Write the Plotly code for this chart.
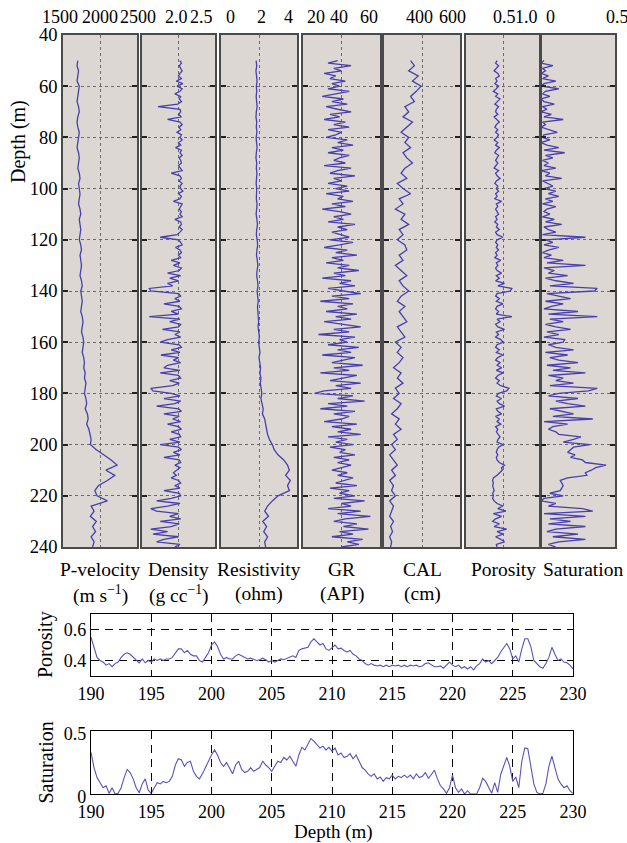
import plotly.graph_objects as go

W, H = 627, 843

# ---------------- data: well logs (top tracks) ----------------
depth_2m = list(range(50, 241, 2))   # depth samples for smooth logs (m)
depth_1m = list(range(50, 241, 1))   # depth samples for spiky logs (m)

p_velocity = [
    1700, 1690, 1710, 1700, 1690, 1720, 1710, 1700, 1690, 1710, 1720, 1700, 1690,
    1700, 1720, 1710, 1700, 1690, 1710, 1720, 1710, 1700, 1720, 1730, 1710, 1720,
    1730, 1720, 1710, 1730, 1740, 1720, 1730, 1740, 1730, 1720, 1740, 1750, 1730,
    1740, 1750, 1740, 1730, 1750, 1760, 1740, 1750, 1760, 1750, 1740, 1760,
    1770, 1760, 1750, 1770, 1780, 1770, 1760, 1780, 1790, 1780, 1800, 1790, 1810,
    1800, 1790, 1810, 1820, 1800, 1830, 1840, 1820, 1850, 1860, 1880, 1870,
    1950, 2050, 2150, 2230, 2080, 2200, 2100, 1980, 1930, 1960, 2100, 1880, 1920,
    1870, 1950, 1900, 1940, 1880, 1920, 1900,
]

resistivity = [
    1.85, 1.88, 1.84, 1.87, 1.90, 1.86, 1.88, 1.85, 1.87, 1.90, 1.86, 1.84, 1.88,
    1.86, 1.89, 1.85, 1.87, 1.90, 1.86, 1.84, 1.88, 1.86, 1.89, 1.87, 1.85, 1.88,
    1.88, 1.86, 1.90, 1.87, 1.85, 1.89, 1.92, 1.88, 1.86, 1.90, 1.93, 1.89, 1.87,
    1.91, 1.94, 1.90, 1.88, 1.92, 1.95, 1.90, 1.93, 1.96, 1.92, 1.94, 1.97,
    1.98, 1.95, 2.00, 2.02, 1.98, 2.03, 2.05, 2.00, 2.04, 2.08, 2.05, 2.10, 2.07,
    2.12, 2.15, 2.10, 2.18, 2.22, 2.18, 2.30, 2.35, 2.40, 2.45, 2.55, 2.70,
    2.80, 3.00, 3.30, 3.50, 3.60, 3.40, 3.65, 3.50, 3.60, 3.00, 2.70, 2.45, 2.30,
    2.50, 2.20, 2.40, 2.25, 2.45, 2.30, 2.35,
]

caliper = [
    340, 360, 330, 380, 350, 395, 370, 340, 360, 310, 330, 300, 350,
    320, 290, 330, 310, 340, 300, 320, 350, 310, 290, 320, 270, 300,
    340, 280, 300, 260, 310, 290, 330, 280, 300, 270, 310, 320, 280,
    300, 260, 290, 320, 280, 300, 330, 290, 270, 310, 280, 300,
    320, 270, 290, 310, 260, 290, 270, 300, 280, 250, 290, 270, 300,
    260, 280, 250, 290, 270, 240, 280, 260, 290, 250, 270, 240,
    260, 230, 250, 270, 240, 260, 230, 250, 240, 260, 230, 250, 240,
    230, 250, 235, 245, 230, 240, 235,
]

density = [
    2.02, 2.04, 2.01, 2.03, 2.05, 2.02, 2.00, 2.04, 1.97, 2.06,
    1.98, 2.05, 2.02, 1.95, 2.03, 2.01, 2.04, 1.99, 1.72, 2.02,
    2.03, 2.00, 2.04, 1.85, 2.02, 2.05, 2.01, 2.03, 1.98, 2.04,
    2.02, 2.05, 2.00, 2.03, 1.96, 2.04, 2.02, 2.05, 2.01, 2.03,
    2.04, 2.00, 2.03, 2.05, 1.90, 2.02, 2.04, 2.01, 2.05, 2.02,
    2.03, 2.06, 2.00, 2.04, 2.02, 1.93, 2.05, 2.03, 2.01, 2.04,
    2.02, 2.05, 1.95, 2.03, 2.04, 2.01, 2.05, 2.02, 1.98, 1.75,
    2.00, 2.03, 2.05, 1.96, 2.02, 2.04, 2.00, 2.03, 1.90, 2.02,
    1.93, 2.04, 2.01, 1.85, 2.03, 1.88, 2.00, 1.85, 1.92, 1.60,
    1.62, 2.00, 2.03, 1.95, 2.02, 1.80, 2.01, 2.04, 1.90, 2.00,
    1.60, 2.02, 1.88, 2.03, 2.00, 1.78, 2.02, 1.95, 2.03, 1.85,
    1.75, 2.01, 2.04, 1.90, 2.02, 1.76, 2.00, 1.93, 2.03, 1.85,
    1.80, 2.02, 1.75, 2.00, 2.03, 1.88, 2.01, 1.92, 1.62, 1.65,
    1.90, 2.02, 1.80, 2.03, 1.95, 1.70, 2.00, 2.04, 1.80, 2.01,
    1.92, 2.03, 1.85, 2.00, 2.04, 1.90, 2.01, 2.03, 1.88, 2.02,
    1.75, 2.00, 2.04, 1.93, 2.02, 1.80, 2.01, 2.03, 1.95, 2.02,
    1.98, 1.93, 1.97, 1.90, 2.00, 2.03, 1.95, 2.02, 1.80, 2.01,
    2.03, 1.90, 1.70, 2.02, 1.85, 1.62, 1.70, 2.00, 1.88, 2.03,
    1.75, 2.01, 1.90, 1.62, 1.85, 1.65, 2.00, 1.80, 1.70, 2.02,
    1.95,
]

gamma_ray = [
    38, 33, 45, 36, 40, 31, 37, 34, 42, 35,
    39, 33, 44, 37, 30, 41, 35, 43, 32, 38,
    45, 34, 39, 31, 42, 36, 44, 33, 40, 37,
    32, 43, 38, 46, 35, 41, 33, 44, 39, 36,
    42, 31, 45, 38, 34, 47, 36, 40, 33, 43,
    37, 44, 32, 41, 38, 46, 35, 42, 30, 39,
    45, 36, 41, 33, 47, 38, 43, 35, 40, 44,
    34, 46, 39, 31, 43, 37, 48, 35, 41, 32,
    44, 38, 49, 36, 42, 30, 45, 39, 47, 33,
    41, 50, 35, 44, 29, 46, 38, 43, 32, 48,
    37, 45, 31, 42, 50, 36, 44, 28, 47, 39,
    43, 33, 49, 38, 45, 30, 47, 41, 35, 51,
    36, 44, 29, 48, 40, 34, 50, 37, 45, 31,
    26, 46, 38, 52, 33, 43, 29, 47, 36, 44,
    40, 31, 48, 35, 45, 38, 50, 33, 43, 37,
    46, 34, 42, 39, 47, 36, 44, 38, 45, 40,
    35, 43, 38, 46, 41, 37, 48, 34, 44, 39,
    47, 36, 52, 40, 45, 33, 50, 38, 55, 42,
    36, 48, 41, 54, 39, 46, 35, 51, 43, 49,
    40,
]

porosity_log = [
    0.42, 0.40, 0.44, 0.41, 0.38, 0.43, 0.45, 0.40, 0.42, 0.39,
    0.44, 0.41, 0.37, 0.43, 0.40, 0.46, 0.42, 0.39, 0.44, 0.41,
    0.40, 0.43, 0.38, 0.42, 0.45, 0.41, 0.39, 0.43, 0.40, 0.44,
    0.42, 0.38, 0.43, 0.40, 0.45, 0.41, 0.39, 0.44, 0.42, 0.40,
    0.43, 0.41, 0.38, 0.44, 0.40, 0.42, 0.46, 0.41, 0.39, 0.43,
    0.41, 0.44, 0.40, 0.42, 0.39, 0.48, 0.41, 0.43, 0.40, 0.42,
    0.44, 0.40, 0.42, 0.39, 0.43, 0.41, 0.45, 0.40, 0.42, 0.50,
    0.42, 0.40, 0.43, 0.41, 0.44, 0.40, 0.42, 0.39, 0.47, 0.41,
    0.43, 0.40, 0.42, 0.48, 0.41, 0.45, 0.40, 0.52, 0.43, 0.62,
    0.60, 0.42, 0.40, 0.45, 0.41, 0.50, 0.42, 0.40, 0.44, 0.41,
    0.62, 0.42, 0.46, 0.40, 0.43, 0.52, 0.41, 0.44, 0.40, 0.47,
    0.50, 0.42, 0.40, 0.45, 0.41, 0.50, 0.43, 0.40, 0.46, 0.42,
    0.48, 0.41, 0.50, 0.43, 0.40, 0.45, 0.42, 0.47, 0.58, 0.55,
    0.44, 0.41, 0.48, 0.42, 0.45, 0.52, 0.41, 0.43, 0.48, 0.40,
    0.45, 0.42, 0.47, 0.40, 0.43, 0.41, 0.44, 0.46, 0.43, 0.42,
    0.50, 0.44, 0.42, 0.41, 0.43, 0.41, 0.42, 0.45, 0.52, 0.48,
    0.49, 0.46, 0.42, 0.37, 0.36, 0.37, 0.36, 0.37, 0.38, 0.36,
    0.37, 0.36, 0.38, 0.42, 0.50, 0.43, 0.54, 0.37, 0.48, 0.40,
    0.36, 0.45, 0.38, 0.55, 0.42, 0.50, 0.40, 0.47, 0.52, 0.41,
    0.42,
]

saturation_log = [
    0.02, 0.00, 0.08, 0.01, 0.03, 0.00, 0.05, 0.01, 0.10, 0.02,
    0.00, 0.12, 0.03, 0.01, 0.06, 0.00, 0.02, 0.09, 0.01, 0.04,
    0.00, 0.07, 0.02, 0.15, 0.01, 0.03, 0.00, 0.05, 0.11, 0.02,
    0.01, 0.06, 0.00, 0.04, 0.12, 0.02, 0.16, 0.03, 0.08, 0.01,
    0.05, 0.02, 0.10, 0.00, 0.06, 0.03, 0.14, 0.01, 0.04, 0.08,
    0.02, 0.10, 0.05, 0.12, 0.03, 0.08, 0.01, 0.10, 0.04, 0.02,
    0.06, 0.01, 0.09, 0.03, 0.14, 0.02, 0.05, 0.10, 0.01, 0.30,
    0.03, 0.08, 0.02, 0.12, 0.05, 0.01, 0.07, 0.02, 0.15, 0.04,
    0.30, 0.02, 0.09, 0.05, 0.18, 0.03, 0.10, 0.22, 0.06, 0.38,
    0.36, 0.04, 0.12, 0.20, 0.03, 0.15, 0.07, 0.02, 0.25, 0.05,
    0.38, 0.06, 0.15, 0.03, 0.10, 0.20, 0.04, 0.12, 0.02, 0.16,
    0.15, 0.05, 0.10, 0.22, 0.03, 0.18, 0.06, 0.12, 0.25, 0.04,
    0.20, 0.08, 0.30, 0.05, 0.15, 0.10, 0.22, 0.06, 0.38, 0.32,
    0.12, 0.05, 0.25, 0.10, 0.18, 0.30, 0.06, 0.15, 0.22, 0.08,
    0.35, 0.02, 0.18, 0.08, 0.05, 0.10, 0.12, 0.27, 0.22, 0.15,
    0.33, 0.22, 0.20, 0.18, 0.23, 0.20, 0.28, 0.30, 0.44, 0.37,
    0.34, 0.30, 0.31, 0.18, 0.13, 0.14, 0.15, 0.14, 0.13, 0.06,
    0.15, 0.02, 0.00, 0.10, 0.05, 0.28, 0.35, 0.02, 0.30, 0.06,
    0.20, 0.05, 0.30, 0.10, 0.04, 0.25, 0.08, 0.30, 0.12, 0.05,
    0.10,
]

# ---------------- data: detail panels (190-230 m) ----------------
detail_depth = [190 + 0.25 * i for i in range(161)]

detail_porosity = [
    0.55, 0.49, 0.42, 0.40, 0.39, 0.37, 0.38, 0.36, 0.38, 0.39, 0.42, 0.44,
    0.45, 0.44, 0.42, 0.40, 0.385, 0.41, 0.385, 0.40, 0.39, 0.41, 0.40, 0.41,
    0.40, 0.41, 0.41, 0.42, 0.45, 0.475, 0.475, 0.45, 0.465, 0.44, 0.43, 0.43,
    0.40, 0.39, 0.42, 0.45, 0.50, 0.52, 0.49, 0.44, 0.41, 0.42, 0.41, 0.41,
    0.43, 0.44, 0.43, 0.42, 0.41, 0.415, 0.405, 0.40, 0.405, 0.415, 0.405, 0.39,
    0.40, 0.39, 0.40, 0.41, 0.405, 0.415, 0.42, 0.43, 0.42, 0.465, 0.475, 0.48,
    0.485, 0.52, 0.54, 0.52, 0.50, 0.51, 0.475, 0.465, 0.485, 0.50, 0.475, 0.48,
    0.465, 0.455, 0.465, 0.44, 0.43, 0.41, 0.40, 0.38, 0.37, 0.38, 0.37, 0.365,
    0.37, 0.36, 0.37, 0.36, 0.37, 0.365, 0.37, 0.36, 0.37, 0.36, 0.37, 0.365,
    0.37, 0.36, 0.365, 0.38, 0.385, 0.37, 0.36, 0.36, 0.365, 0.35, 0.37, 0.39,
    0.37, 0.36, 0.37, 0.35, 0.36, 0.345, 0.36, 0.34, 0.365, 0.38, 0.41, 0.39,
    0.40, 0.38, 0.40, 0.42, 0.455, 0.485, 0.51, 0.475, 0.41, 0.43, 0.39, 0.475,
    0.54, 0.54, 0.49, 0.40, 0.38, 0.36, 0.35, 0.38, 0.42, 0.485, 0.44, 0.40,
    0.41, 0.39, 0.385, 0.37, 0.345,
]

detail_saturation = [
    0.33, 0.21, 0.13, 0.09, 0.05, 0.065, 0.005, 0.05, 0.0, 0.005, 0.05, 0.13,
    0.195, 0.17, 0.12, 0.05, 0.01, 0.08, 0.12, 0.03, 0.005, 0.05, 0.09, 0.08,
    0.10, 0.09, 0.10, 0.14, 0.23, 0.28, 0.27, 0.22, 0.25, 0.26, 0.18, 0.14,
    0.12, 0.16, 0.21, 0.27, 0.31, 0.35, 0.31, 0.25, 0.22, 0.25, 0.21, 0.16,
    0.23, 0.26, 0.195, 0.17, 0.18, 0.21, 0.18, 0.195, 0.21, 0.26, 0.23, 0.21,
    0.18, 0.22, 0.26, 0.25, 0.29, 0.27, 0.30, 0.26, 0.22, 0.31, 0.37, 0.35,
    0.39, 0.44, 0.42, 0.39, 0.365, 0.38, 0.35, 0.37, 0.34, 0.365, 0.31, 0.325,
    0.29, 0.30, 0.32, 0.28, 0.31, 0.26, 0.21, 0.19, 0.16, 0.14, 0.16, 0.12,
    0.135, 0.10, 0.13, 0.12, 0.15, 0.12, 0.14, 0.13, 0.15, 0.13, 0.15, 0.12,
    0.16, 0.13, 0.14, 0.17, 0.125, 0.155, 0.19, 0.12, 0.065, 0.04, 0.005, 0.05,
    0.15, 0.05, 0.013, 0.04, 0.0, 0.026, 0.0, 0.0, 0.0, 0.05, 0.125, 0.10,
    0.05, 0.005, 0.09, 0.013, 0.155, 0.23, 0.29, 0.22, 0.10, 0.135, 0.05, 0.26,
    0.365, 0.36, 0.23, 0.08, 0.013, 0.0, 0.005, 0.08, 0.22, 0.30, 0.21, 0.12,
    0.08, 0.05, 0.065, 0.026, 0.005,
]

# ---------------- axis labels / ticks ----------------
track_titles = ["P-velocity", "Density", "Resistivity", "GR", "CAL", "Porosity", "Saturation"]
track_units = ["(m s<sup>\u22121</sup>)", "(g cc<sup>\u22121</sup>)", "(ohm)", "(API)", "(cm)", "", ""]
track_ranges = [[1500, 2500], [1.5, 2.5], [0, 4], [20, 60], [200, 600], [0, 1.0], [0, 0.5]]
track_tickvals = [[1500, 2000, 2500], [2.0, 2.5], [0, 2, 4], [20, 40, 60], [400, 600], [0.5, 1.0], [0, 0.5]]
track_ticktext = [["1500", "2000", "2500"], ["2.0", "2.5"], ["0", "2", "4"], ["20", "40", "60"],
                  ["400", "600"], ["0.5", "1.0"], ["0", "0.5"]]
track_grid = [[2000], [2.0], [2], [40], [400], [0.5], []]
depth_ticks = list(range(40, 241, 20))
detail_ticks = list(range(190, 231, 5))

# ---------------- layout helpers (style) ----------------
def fx(p):
    return p / W


def fy(p):
    return 1 - p / H


FONT = "Liberation Serif"
LINE = "rgb(72,62,172)"
LINE2 = "rgb(88,82,186)"
BG = "rgb(221,215,211)"
FRAME = "#4a4a4a"

panel_px = [(63, 137), (142, 215), (221, 297), (303, 380), (384, 460), (466, 540), (541, 615)]
label_anchor = [["center", "center", "center"], ["center", "right"], ["left", "center", "right"],
                ["left", "center", "right"], ["center", "center"], ["center", "right"], ["left", "center"]]
label_shift = [[-3, 0, 1], [-2, 0], [3, 2, -2], [2, -3, 0], [-3, -8], [1, 0], [3, 2]]
TOP, BOT = 35, 547

series_x = [p_velocity, density, resistivity, gamma_ray, caliper, porosity_log, saturation_log]
series_y = [depth_2m, depth_1m, depth_2m, depth_1m, depth_2m, depth_1m, depth_1m]

fig = go.Figure()
layout = dict(
    width=W, height=H, autosize=False,
    margin=dict(l=0, r=0, t=0, b=0, pad=0),
    paper_bgcolor="white", plot_bgcolor="white",
    showlegend=False,
    font=dict(family=FONT, size=19, color="black"),
)
shapes = []
annotations = []

for i in range(7):
    n = i + 1
    xa = "x" if n == 1 else f"x{n}"
    ya = "y" if n == 1 else f"y{n}"
    fig.add_trace(go.Scatter(x=series_x[i], y=series_y[i], mode="lines",
                             line=dict(color=LINE, width=1.3), xaxis=xa, yaxis=ya,
                             hoverinfo="skip"))
    l, r = panel_px[i]
    layout[f"xaxis{n}" if n > 1 else "xaxis"] = dict(
        domain=[fx(l), fx(r)], range=track_ranges[i], anchor=ya, side="top",
        tickvals=track_grid[i], showticklabels=False, ticks="",
        showgrid=True, gridcolor="#6a6a6a", griddash="dot", gridwidth=1,
        showline=True, mirror=True, linecolor=FRAME, linewidth=1.5,
        zeroline=False, fixedrange=True, automargin=False,
    )
    layout[f"yaxis{n}" if n > 1 else "yaxis"] = dict(
        domain=[fy(BOT), fy(TOP)], range=[240, 40], anchor=xa,
        tickvals=depth_ticks, showticklabels=(n == 1),
        ticks="inside", ticklen=5, tickwidth=2, tickcolor="#222",
        showgrid=True, gridcolor="#6a6a6a", griddash="dot", gridwidth=1,
        showline=True, mirror="ticks", linecolor=FRAME, linewidth=1.5,
        zeroline=False, tickfont=dict(size=18.5), fixedrange=True, automargin=False,
    )
    shapes.append(dict(type="rect", xref=f"{xa} domain", yref=f"{ya} domain",
                       x0=0, x1=1, y0=0, y1=1, fillcolor=BG, line=dict(width=0),
                       layer="below"))
    for v, t, a, s in zip(track_tickvals[i], track_ticktext[i], label_anchor[i], label_shift[i]):
        annotations.append(dict(x=v, xref=xa, y=fy(17), yref="paper", text=t,
                                showarrow=False, xanchor=a, yanchor="middle", xshift=s,
                                font=dict(size=18)))
    cx = (l + r) / 2 if i < 6 else 583
    annotations.append(dict(x=fx(cx), y=fy(569), xref="paper", yref="paper",
                            text=track_titles[i], showarrow=False,
                            xanchor="center", yanchor="middle", font=dict(size=19.5)))
    if track_units[i]:
        annotations.append(dict(x=fx(cx), y=fy(594), xref="paper", yref="paper",
                                text=track_units[i], showarrow=False,
                                xanchor="center", yanchor="middle", font=dict(size=19.5)))

annotations.append(dict(x=fx(18), y=fy(142), xref="paper", yref="paper", text="Depth (m)",
                        textangle=-90, showarrow=False, xanchor="center", yanchor="middle",
                        font=dict(size=20)))

# ---------------- detail panels ----------------
PL, PR = 91, 573
detail_boxes = [(614, 676), (731, 794)]
detail_series = [detail_porosity, detail_saturation]
detail_ranges = [[0.3, 0.7], [0, 0.5]]
detail_yticks = [[0.4, 0.6], [0, 0.5]]
detail_yticktext = [["0.4", "0.6"], ["0", "0.5"]]
detail_titles = ["Porosity", "Saturation"]

for j in range(2):
    n = 8 + j
    top, bot = detail_boxes[j]
    fig.add_trace(go.Scatter(x=detail_depth, y=detail_series[j], mode="lines",
                             line=dict(color=LINE2, width=1.1), xaxis=f"x{n}", yaxis=f"y{n}",
                             hoverinfo="skip"))
    layout[f"xaxis{n}"] = dict(
        domain=[fx(PL), fx(PR)], range=[190, 230], anchor=f"y{n}",
        tickvals=detail_ticks, ticks="inside", ticklen=5, tickcolor="black",
        showgrid=True, gridcolor="black", griddash="8px,6px", gridwidth=1,
        showline=True, mirror="ticks", linecolor="black", linewidth=1.2,
        zeroline=False, tickfont=dict(size=18), fixedrange=True, automargin=False,
        ticklabelstandoff=1,
    )
    layout[f"yaxis{n}"] = dict(
        domain=[fy(bot), fy(top)], range=detail_ranges[j], anchor=f"x{n}",
        tickvals=detail_yticks[j], ticktext=detail_yticktext[j],
        ticks="inside", ticklen=5, tickcolor="black",
        showgrid=(j == 0), gridcolor="black", griddash="8px,6px", gridwidth=1,
        showline=True, mirror="ticks", linecolor="black", linewidth=1.2,
        zeroline=False, tickfont=dict(size=18), fixedrange=True, automargin=False,
        ticklabelshift=(3 if j == 1 else 0),
    )
    annotations.append(dict(x=fx(45), y=fy((top + bot) / 2), xref="paper", yref="paper",
                            text=detail_titles[j], textangle=-90, showarrow=False,
                            xanchor="center", yanchor="middle", font=dict(size=20)))

annotations.append(dict(x=fx(333), y=fy(832), xref="paper", yref="paper", text="Depth (m)",
                        showarrow=False, xanchor="center", yanchor="middle",
                        font=dict(size=19)))

layout["shapes"] = shapes
layout["annotations"] = annotations
fig.update_layout(**layout)
fig.write_html(
    "out.html",
    config={"displayModeBar": False},
    post_script="document.body.style.margin='0';document.body.style.overflow='hidden';",
)
